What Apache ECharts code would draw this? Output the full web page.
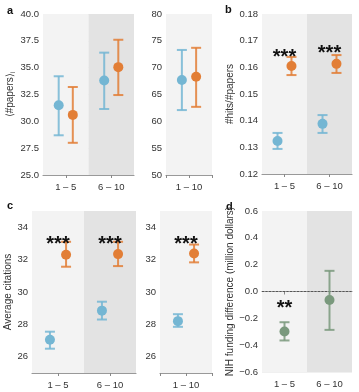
<!DOCTYPE html>
<html>
<head>
<meta charset="utf-8">
<script src="https://cdn.jsdelivr.net/npm/echarts@6/dist/echarts.min.js"></script>
<style>html,body{margin:0;padding:0;background:#fff}#c{width:359px;height:392px}</style>
</head>
<body>
<div id="c"></div>
<script>
// ---------- data ----------
const catsGroup = ['1 – 5', '6 – 10'];
const catsAll = ['1 – 10'];

// panel a (left): <#papers>
const aBlueMean = [31.5, 33.8], aBlueLow = [28.7, 31.15], aBlueHigh = [34.2, 36.4];
const aOrangeMean = [30.6, 35.05], aOrangeLow = [28.0, 32.45], aOrangeHigh = [33.2, 37.6];
// panel a (right)
const aRBlueMean = [67.7], aRBlueLow = [62.1], aRBlueHigh = [73.3];
const aROrangeMean = [68.3], aROrangeLow = [62.7], aROrangeHigh = [73.7];
// panel b: #hits/#papers
const bBlueMean = [0.1324, 0.1388], bBlueLow = [0.1294, 0.1354], bBlueHigh = [0.1354, 0.1421];
const bOrangeMean = [0.1605, 0.1613], bOrangeLow = [0.1571, 0.1579], bOrangeHigh = [0.1639, 0.1646];
// panel c (left): average citations
const cBlueMean = [27.05, 28.85], cBlueLow = [26.5, 28.3], cBlueHigh = [27.55, 29.4];
const cOrangeMean = [32.3, 32.34], cOrangeLow = [31.56, 31.6], cOrangeHigh = [33.1, 33.1];
// panel c (right)
const cRBlueMean = [28.2], cRBlueLow = [27.85], cRBlueHigh = [28.63];
const cROrangeMean = [32.38], cROrangeLow = [31.83], cROrangeHigh = [32.93];
// panel d: NIH funding difference
const dMean = [-0.298, -0.063], dLow = [-0.365, -0.286], dHigh = [-0.229, 0.154];

// significance annotations [category index, y position value, text]
const bStars = [[0, 0.1659, '***'], [1, 0.1671, '***']];
const cStars = [[0, 33.3, '***'], [1, 33.3, '***']];
const cRStars = [[0, 33.3, '***']];
const dStars = [[0, -0.085, '**']];

// ---------- style ----------
const FONT = 'Liberation Sans';
const BLUE = '#74b6d3', ORANGE = '#e27e36', GREEN = '#7a997d';
const LIGHT = '#f3f3f3', DARK = '#e3e3e3';
const GRIDC = 'rgba(0,0,0,0.06)';

const grids = [
  {left: 43, top: 14, width: 91, height: 161},
  {left: 166, top: 14, width: 46, height: 161},
  {left: 262, top: 14, width: 90, height: 160},
  {left: 32, top: 211, width: 104, height: 162},
  {left: 160, top: 211, width: 52, height: 162},
  {left: 262, top: 211, width: 90, height: 161}
];

function xAx(gi, cats) {
  return {
    type: 'category', gridIndex: gi, data: cats, boundaryGap: true,
    axisLine: {show: true, lineStyle: {color: '#999', width: 1.2}},
    axisTick: {show: true, alignWithLabel: true, length: 3, lineStyle: {color: '#888'}},
    axisLabel: {color: '#333', fontSize: 9.5, fontFamily: FONT, margin: 7},
    splitLine: {show: false},
    splitArea: {show: true, areaStyle: {color: [LIGHT, DARK]}}
  };
}
function xEnds(gi) {
  return {
    type: 'value', gridIndex: gi, min: 0, max: 1, interval: 1, position: 'bottom',
    axisLine: {show: false}, axisLabel: {show: false}, splitLine: {show: false},
    axisTick: {show: true, length: 3, lineStyle: {color: '#888'}}
  };
}
function yAx(gi, min, max, interval, fmt, name, nameGap, lineColors) {
  return {
    type: 'value', gridIndex: gi, min: min, max: max, interval: interval,
    axisLine: {show: false}, axisTick: {show: false},
    axisLabel: {color: '#333', fontSize: 9.5, fontFamily: FONT, margin: 4, formatter: fmt},
    splitLine: {show: true, lineStyle: {color: lineColors || GRIDC, width: 1}},
    name: name || '', nameLocation: 'middle', nameGap: nameGap || 0,
    nameTextStyle: {color: '#333', fontSize: 10, fontFamily: FONT,
      rich: {m: {fontSize: 10, fontFamily: FONT, color: '#333'}, s: {fontSize: 7, fontFamily: FONT, color: '#333', padding: [5, 0, 0, 0]}}}
  };
}

function errSeries(xi, yi, mean, low, high, color, side) {
  return {
    type: 'custom', xAxisIndex: xi, yAxisIndex: yi,
    data: mean.map((m, i) => [i, m, low[i], high[i]]),
    encode: {x: 0, y: [1, 2, 3]},
    z: 5,
    renderItem: function (params, api) {
      const x = api.value(0);
      const p = api.coord([x, api.value(1)]);
      const lo = api.coord([x, api.value(2)]);
      const hi = api.coord([x, api.value(3)]);
      const bw = api.size([1, 0])[0];
      const cx = p[0] + side * bw * 0.155;
      const cap = 5;
      const ls = {stroke: color, lineWidth: 2, opacity: 0.85};
      return {
        type: 'group',
        children: [
          {type: 'line', shape: {x1: cx, y1: lo[1], x2: cx, y2: hi[1]}, style: ls},
          {type: 'line', shape: {x1: cx - cap, y1: lo[1], x2: cx + cap, y2: lo[1]}, style: ls},
          {type: 'line', shape: {x1: cx - cap, y1: hi[1], x2: cx + cap, y2: hi[1]}, style: ls},
          {type: 'circle', shape: {cx: cx, cy: p[1], r: 5}, style: {fill: color}}
        ]
      };
    }
  };
}
function starSeries(xi, yi, stars) {
  return {
    type: 'custom', xAxisIndex: xi, yAxisIndex: yi, z: 6,
    data: stars.map(s => [s[0], s[1]]),
    renderItem: function (params, api) {
      const p = api.coord([api.value(0), api.value(1)]);
      return {
        type: 'text',
        style: {text: stars[params.dataIndex][2], x: p[0], y: p[1] + 5.5, align: 'center', verticalAlign: 'middle',
          fontSize: 20, fontWeight: 'bold', fontFamily: FONT, fill: '#111'}
      };
    }
  };
}

const f1 = v => v.toFixed(1);
const f2 = v => v.toFixed(2);
const f0 = v => String(Math.round(v));
const fEven = v => (Math.round(v) % 2 === 0 ? String(Math.round(v)) : '');
const fD = v => { const r = Math.round(v * 10) / 10; return (r < 0 ? '\u2212' : '') + Math.abs(r).toFixed(1); };
const evenLines = ['rgba(0,0,0,0)', GRIDC];

const option = {
  animation: false,
  grid: grids,
  xAxis: [
    xAx(0, catsGroup), xAx(1, catsAll), xAx(2, catsGroup),
    xAx(3, catsGroup), xAx(4, catsAll), xAx(5, catsGroup),
    xEnds(1), xEnds(4)
  ],
  yAxis: [
    yAx(0, 25, 40, 2.5, f1, '{m|\u27e8#papers\u27e9}{s|i}', 22),
    yAx(1, 50, 80, 5, f0),
    yAx(2, 0.12, 0.18, 0.01, f2, '#hits/#papers', 23),
    yAx(3, 25, 35, 1, fEven, 'Average citations', 14, evenLines),
    yAx(4, 25, 35, 1, fEven, '', 0, evenLines),
    yAx(5, -0.6, 0.6, 0.2, fD, 'NIH funding difference (million dollars)', 21)
  ],
  series: [
    errSeries(0, 0, aBlueMean, aBlueLow, aBlueHigh, BLUE, -1),
    errSeries(0, 0, aOrangeMean, aOrangeLow, aOrangeHigh, ORANGE, 1),
    errSeries(1, 1, aRBlueMean, aRBlueLow, aRBlueHigh, BLUE, -1),
    errSeries(1, 1, aROrangeMean, aROrangeLow, aROrangeHigh, ORANGE, 1),
    errSeries(2, 2, bBlueMean, bBlueLow, bBlueHigh, BLUE, -1),
    errSeries(2, 2, bOrangeMean, bOrangeLow, bOrangeHigh, ORANGE, 1),
    errSeries(3, 3, cBlueMean, cBlueLow, cBlueHigh, BLUE, -1),
    errSeries(3, 3, cOrangeMean, cOrangeLow, cOrangeHigh, ORANGE, 1),
    errSeries(4, 4, cRBlueMean, cRBlueLow, cRBlueHigh, BLUE, -1),
    errSeries(4, 4, cROrangeMean, cROrangeLow, cROrangeHigh, ORANGE, 1),
    Object.assign(errSeries(5, 5, dMean, dLow, dHigh, GREEN, 0), {
      markLine: {silent: true, symbol: 'none', label: {show: false},
        lineStyle: {type: [2, 1.5], color: '#444', width: 0.8}, data: [{yAxis: 0}]}
    }),
    starSeries(2, 2, bStars),
    starSeries(3, 3, cStars),
    starSeries(4, 4, cRStars),
    starSeries(5, 5, dStars)
  ],
  graphic: [
    {type: 'text', left: 7, top: 5, style: {text: 'a', fontSize: 11, fontWeight: 'bold', fontFamily: FONT, fill: '#111'}},
    {type: 'text', left: 225, top: 4, style: {text: 'b', fontSize: 11, fontWeight: 'bold', fontFamily: FONT, fill: '#111'}},
    {type: 'text', left: 7, top: 200, style: {text: 'c', fontSize: 11, fontWeight: 'bold', fontFamily: FONT, fill: '#111'}},
    {type: 'text', left: 226, top: 201, style: {text: 'd', fontSize: 11, fontWeight: 'bold', fontFamily: FONT, fill: '#111'}}
  ]
};

const chart = echarts.init(document.getElementById('c'), null, {renderer: 'canvas'});
chart.setOption(option);
</script>
</body>
</html>
